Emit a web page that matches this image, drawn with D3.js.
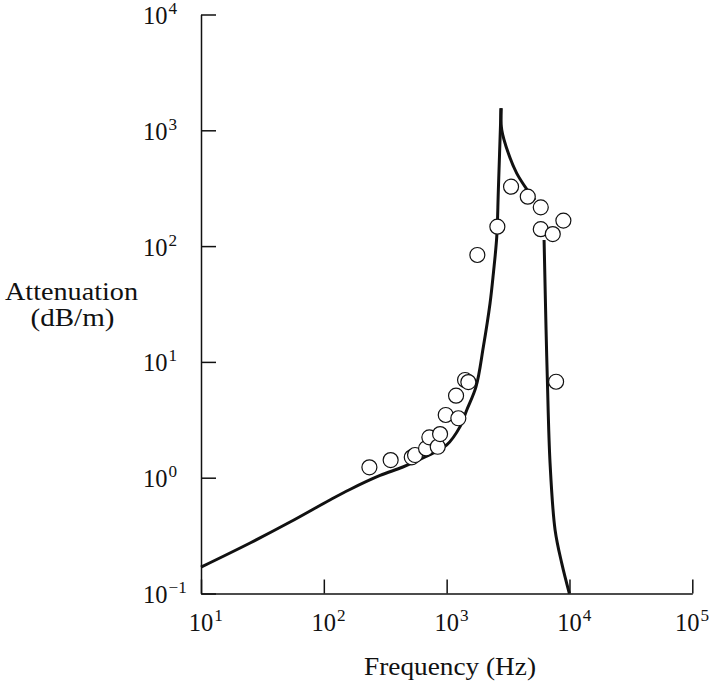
<!DOCTYPE html>
<html lang="en">
<head>
    <meta charset="UTF-8">
    <title>Attenuation vs frequency</title>
    <script src="https://d3js.org/d3.v7.min.js"></script>
    <style>
        body { margin: 0; background: #fff; }
        text { font-family: "Liberation Serif", "DejaVu Serif", serif; fill: #111; }
    </style>
</head>
<body>
    <svg></svg>

    <script>
        const width = 709, height = 685;

        // tick exponents (labels are 10^n)
        const xExps = [1, 2, 3, 4, 5];
        const yExps = [-1, 0, 1, 2, 3, 4];

        // model curve: rising branch up to the peak
        const upFreq = [10, 25.1, 53.1, 112, 163, 287, 440, 667, 1002, 1286, 1458, 1735, 1990, 2256, 2401, 2558, 2636, 2773];
        const upAtt  = [0.169, 0.273, 0.414, 0.642, 0.791, 1.045, 1.237, 1.51, 1.92, 2.76, 3.84, 6.11, 13.5, 32.1, 58.2, 120, 305, 1549];
        // falling branch from the peak
        const downFreq = [2773, 2810, 3180, 3723, 4541, 5247];
        const downAtt  = [1549, 1006, 633, 425, 305, 250];
        // steep cut-off after the gap
        const tailFreq = [6212, 6448, 6607, 6950, 7636, 8656, 9982];
        const tailAtt  = [113, 18.9, 6.98, 1.33, 0.354, 0.182, 0.1];

        // measured points
        const measFreq = [235, 350, 520, 553, 680, 723, 846, 884, 983, 1245, 1193, 1412, 1502, 1778, 2588, 3345, 4576, 5838, 5838, 7311, 8920, 7780];
        const measAtt  = [1.23, 1.42, 1.50, 1.57, 1.79, 2.23, 1.85, 2.38, 3.48, 3.26, 5.11, 6.98, 6.70, 83.8, 147, 326, 267, 216, 140, 127, 166, 6.74];

        const x = d3.scaleLog().domain([10, 1e5]).range([201, 692.3]);
        const y = d3.scaleLog().domain([0.1, 1e4]).range([593.5, 14.5]);

        const svg = d3.select("svg")
            .attr("width", width)
            .attr("height", height);

        // axes with inward ticks
        svg.append("g")
            .attr("transform", `translate(0,${y(0.1)})`)
            .call(d3.axisBottom(x).tickValues(xExps.map(e => Math.pow(10, e)))
                .tickSizeInner(-14).tickSizeOuter(0).tickFormat(""));
        svg.append("g")
            .attr("transform", `translate(${x(10)},0)`)
            .call(d3.axisLeft(y).tickValues(yExps.map(e => Math.pow(10, e)))
                .tickSizeInner(-15).tickSizeOuter(0).tickFormat(""));
        svg.selectAll(".domain, .tick line")
            .attr("stroke", "#111")
            .attr("stroke-width", 1.5);

        // pick a tick font size so that "10" is about 24.5px wide, like the original
        const probe = svg.append("text").attr("font-size", 25).text("10");
        const fs = 25 * 24.5 / probe.node().getComputedTextLength();
        probe.remove();
        const sup = fs * 0.7;

        // y tick labels, left aligned
        yExps.forEach(e => {
            const t = svg.append("text")
                .attr("x", 143)
                .attr("y", y(Math.pow(10, e)) + 9.5)
                .attr("font-size", fs);
            t.append("tspan").text("10");
            t.append("tspan").attr("dy", -10).attr("dx", 1).attr("font-size", sup)
                .text(e < 0 ? "\u2212" + (-e) : e);
        });

        // x tick labels, "10" centred on tick
        xExps.forEach(e => {
            const t = svg.append("text")
                .attr("y", 631)
                .attr("font-size", fs);
            const base = t.append("tspan").text("10");
            t.append("tspan").attr("dy", -10).attr("dx", 1).attr("font-size", sup).text(e);
            const w = base.node().getComputedTextLength();
            let x0 = x(Math.pow(10, e)) - w / 2;
            const full = t.node().getComputedTextLength();
            if (x0 + full > width - 1) x0 = width - 1 - full;
            t.attr("x", x0);
        });

        // axis titles
        svg.append("text")
            .attr("x", 450).attr("y", 675)
            .attr("text-anchor", "middle")
            .attr("font-size", 25)
            .attr("textLength", 172).attr("lengthAdjust", "spacingAndGlyphs")
            .text("Frequency (Hz)");
        svg.append("text")
            .attr("x", 71.5).attr("y", 300)
            .attr("text-anchor", "middle")
            .attr("font-size", 25)
            .attr("textLength", 133).attr("lengthAdjust", "spacingAndGlyphs")
            .text("Attenuation");
        svg.append("text")
            .attr("x", 72.5).attr("y", 326)
            .attr("text-anchor", "middle")
            .attr("font-size", 25)
            .attr("textLength", 84).attr("lengthAdjust", "spacingAndGlyphs")
            .text("(dB/m)");

        // model curve
        const line = d3.line()
            .x(d => x(d[0]))
            .y(d => y(d[1]))
            .curve(d3.curveCatmullRom.alpha(0.5));
        const pairs = (fs, as) => fs.map((f, i) => [f, as[i]]);
        svg.selectAll("path.curve")
            .data([pairs(upFreq, upAtt), pairs(downFreq, downAtt), pairs(tailFreq, tailAtt)])
            .join("path")
            .attr("class", "curve")
            .attr("fill", "none")
            .attr("stroke", "#111")
            .attr("stroke-width", 3)
            .attr("stroke-linejoin", "round")
            .attr("d", line);

        // measurements, white filled open circles
        svg.selectAll("circle")
            .data(pairs(measFreq, measAtt))
            .join("circle")
            .attr("cx", d => x(d[0]))
            .attr("cy", d => y(d[1]))
            .attr("r", 7.5)
            .attr("fill", "#fff")
            .attr("stroke", "#111")
            .attr("stroke-width", 1.2);
    </script>
</body>
</html>
